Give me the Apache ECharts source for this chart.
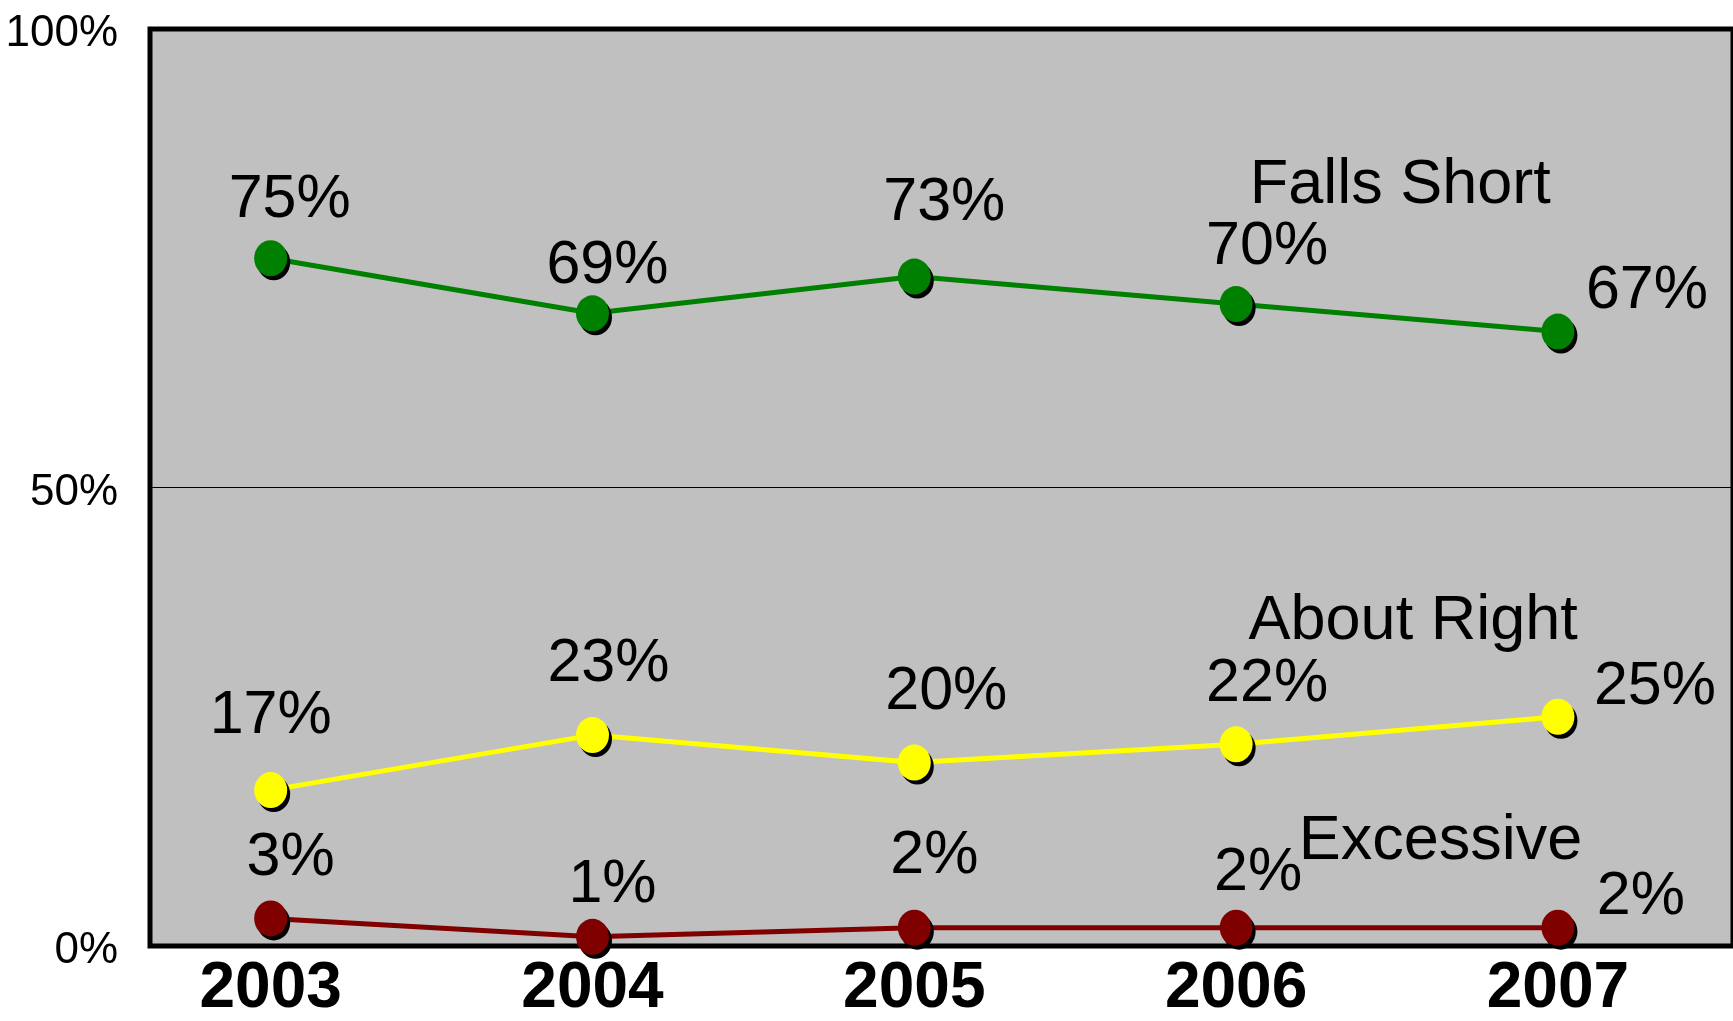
<!DOCTYPE html>
<html>
<head>
<meta charset="utf-8">
<script src="https://cdn.jsdelivr.net/npm/echarts@6/dist/echarts.min.js"></script>
<style>
  html, body { margin: 0; padding: 0; background: #fff; }
  #chart { width: 1733px; height: 1021px; }
</style>
</head>
<body>
<div id="chart"></div>
<script>
// data
const years = [2003, 2004, 2005, 2006, 2007];
const fallsShort = [75, 69, 73, 70, 67];
const aboutRight = [17, 23, 20, 22, 25];
const excessive = [3, 1, 2, 2, 2];
const yTicks = [0, 50, 100];

// where each value label sits relative to its point (px)
const fallsShortOffsets = [[19, -58], [15, -47], [30, -73], [31, -57], [89, -40]];
const aboutRightOffsets = [[0, -74], [16, -71], [32, -70], [31, -60], [97, -30]];
const excessiveOffsets = [[20, -60], [20, -52], [20, -71], [22, -54], [83, -30]];

const FONT = 'Liberation Sans, Arial, sans-serif';

let makeSeries = (name, values, offsets, color, nameAt) => {
  return {
    name: name,
    type: 'line',
    symbol: 'circle',
    symbolSize: [33, 36],
    data: values.map((v, i) => ({
      value: [years[i], v],
      label: { offset: offsets[i] }
    })),
    lineStyle: { color: color, width: 5 },
    itemStyle: {
      color: color,
      shadowColor: '#000',
      shadowBlur: 0,
      shadowOffsetX: 3,
      shadowOffsetY: 4
    },
    label: {
      show: true,
      position: 'inside',
      color: '#000',
      fontFamily: FONT,
      fontSize: 61,
      formatter: p => p.value[1] + '%'
    },
    emphasis: { disabled: true },
    markPoint: {
      symbol: 'circle',
      symbolSize: 0,
      itemStyle: { color: 'transparent' },
      label: {
        show: true,
        position: 'inside',
        color: '#000',
        fontFamily: FONT,
        fontSize: 63,
        formatter: name
      },
      data: [{ coord: nameAt }]
    },
    z: 3
  };
};

let chartInstance = echarts.init(document.getElementById('chart'), null, { renderer: 'canvas' });

const option = {
  animation: false,
  backgroundColor: '#fff',
  grid: {
    left: 150,
    right: -3,
    top: 29,
    bottom: 74,
    show: true,
    backgroundColor: '#c0c0c0',
    borderColor: '#000',
    borderWidth: 5
  },
  xAxis: {
    type: 'value',
    min: 2002.625,
    max: 2007.544,
    axisLine: { show: false },
    axisTick: { show: false },
    splitLine: { show: false },
    axisLabel: {
      customValues: years,
      formatter: v => String(v),
      color: '#000',
      fontFamily: FONT,
      fontWeight: 'bold',
      fontSize: 64,
      margin: 11
    }
  },
  yAxis: {
    type: 'value',
    min: 0,
    max: 100,
    interval: 50,
    axisLine: { show: false },
    axisTick: { show: false },
    splitLine: { show: true, lineStyle: { color: '#000', width: 1.2 } },
    axisLabel: {
      customValues: yTicks,
      formatter: v => '{t|' + v + '%}',
      margin: 32,
      rich: {
        t: {
          color: '#000',
          fontFamily: FONT,
          fontSize: 44,
          lineHeight: 44,
          padding: [10, 0, 0, 0]
        }
      }
    }
  },
  series: [
    makeSeries('Falls Short', fallsShort, fallsShortOffsets, '#008000', [2006.51, 82.9]),
    makeSeries('About Right', aboutRight, aboutRightOffsets, '#ffff00', [2006.55, 35.4]),
    makeSeries('Excessive', excessive, excessiveOffsets, '#800000', [2006.635, 11.4])
  ]
};

chartInstance.setOption(option);
</script>
</body>
</html>
